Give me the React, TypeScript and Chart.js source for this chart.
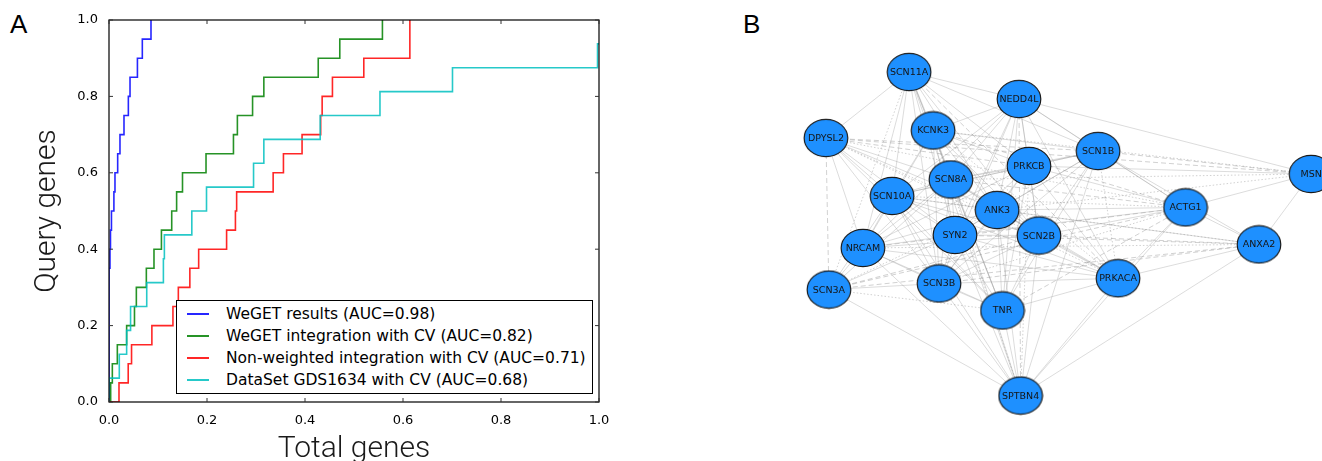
import React, { useEffect, useRef } from "react";
import { Chart, registerables } from "chart.js";

Chart.register(...registerables);

// ---------- Panel A data ----------
const axisTicks = [0, 0.2, 0.4, 0.6, 0.8, 1.0];
const seriesLabels = [
  "WeGET results (AUC=0.98)",
  "WeGET integration with CV (AUC=0.82)",
  "Non-weighted integration with CV (AUC=0.71)",
  "DataSet GDS1634 with CV (AUC=0.68)",
];
const seriesColors = [
  "rgba(0,0,255,0.85)",
  "rgba(0,128,0,0.85)",
  "rgba(255,0,0,0.85)",
  "rgba(0,191,191,0.85)",
];

const blueX = [0, 0, 0.002, 0.003, 0.005, 0.01, 0.0122, 0.0177, 0.0224, 0.0306, 0.0395, 0.0429, 0.058, 0.068, 0.0857];
const blueY = [0, 0.35, 0.4, 0.45, 0.5, 0.55, 0.6, 0.65, 0.7, 0.75, 0.8, 0.85, 0.9, 0.95, 1.0];

const greenX = [0, 0.0034, 0.0068, 0.017, 0.036, 0.052, 0.0558, 0.0762, 0.0918, 0.107, 0.128, 0.138, 0.15, 0.198, 0.254, 0.262, 0.293, 0.316, 0.427, 0.471, 0.558];
const greenY = [0, 0.05, 0.1, 0.15, 0.2, 0.25, 0.3, 0.35, 0.4, 0.45, 0.5, 0.55, 0.6, 0.65, 0.7, 0.75, 0.8, 0.85, 0.9, 0.95, 1.0];

const redX = [0, 0.0204, 0.0392, 0.046, 0.0875, 0.1305, 0.1415, 0.165, 0.183, 0.24, 0.258, 0.2605, 0.335, 0.356, 0.394, 0.432, 0.435, 0.456, 0.52, 0.614, 0.614];
const redY = [0, 0.05, 0.1, 0.15, 0.2, 0.25, 0.3, 0.35, 0.4, 0.45, 0.5, 0.55, 0.6, 0.65, 0.7, 0.75, 0.8, 0.85, 0.9, 0.95, 1.0];

const cyanX = [0, 0, 0.021, 0.036, 0.044, 0.077, 0.111, 0.113, 0.169, 0.199, 0.295, 0.316, 0.431, 0.553, 0.701, 0.997, 1.0];
const cyanY = [0, 0.0625, 0.125, 0.1875, 0.25, 0.3125, 0.375, 0.4375, 0.5, 0.5625, 0.625, 0.6875, 0.75, 0.8125, 0.875, 0.9375, 0.9375];

// ---------- Panel B data (network layout coordinates) ----------
const nodeNames = ["SCN11A", "NEDD4L", "KCNK3", "DPYSL2", "SCN1B", "MSN", "PRKCB", "SCN8A", "SCN10A", "ANK3", "ACTG1", "SYN2", "SCN2B", "ANXA2", "NRCAM", "SCN3A", "SCN3B", "PRKACA", "TNR", "SPTBN4"];
const nodeX = [-0.596, -0.189, -0.507, -0.904, 0.104, 0.893, -0.152, -0.441, -0.659, -0.27, 0.428, -0.426, -0.115, 0.7, -0.767, -0.893, -0.485, 0.178, -0.25, -0.183];
const nodeY = [0.881, 0.735, 0.565, 0.524, 0.454, 0.33, 0.373, 0.3, 0.211, 0.135, 0.149, 0.0, -0.003, -0.051, -0.07, -0.295, -0.262, -0.234, -0.408, -0.868];

const solidEdges = [
  "SCN11A-DPYSL2", "SCN11A-KCNK3", "SCN11A-NEDD4L", "SCN11A-SCN8A", "SCN11A-SCN10A", "SCN11A-ANK3", "SCN11A-SYN2", "SCN11A-SCN1B", "SCN11A-PRKCB", "SCN11A-NRCAM", "SCN11A-SCN3B", "SCN11A-TNR", "SCN11A-SPTBN4", "SCN11A-SCN2B",
  "NEDD4L-KCNK3", "NEDD4L-SCN1B", "NEDD4L-PRKCB", "NEDD4L-SCN8A", "NEDD4L-ANK3", "NEDD4L-SYN2", "NEDD4L-SCN2B", "NEDD4L-SCN10A", "NEDD4L-MSN", "NEDD4L-PRKACA", "NEDD4L-TNR", "NEDD4L-SCN3B", "NEDD4L-NRCAM", "NEDD4L-ACTG1",
  "KCNK3-SCN8A", "KCNK3-ANK3", "KCNK3-SYN2", "KCNK3-SCN10A", "KCNK3-PRKCB", "KCNK3-SCN2B", "KCNK3-SCN3B", "KCNK3-TNR", "KCNK3-NRCAM", "KCNK3-SCN1B",
  "DPYSL2-SCN10A", "DPYSL2-NRCAM", "DPYSL2-SCN8A", "DPYSL2-SYN2", "DPYSL2-SCN3B", "DPYSL2-TNR", "DPYSL2-ANK3",
  "SCN1B-PRKCB", "SCN1B-ANK3", "SCN1B-SCN2B", "SCN1B-ACTG1", "SCN1B-SCN8A", "SCN1B-SYN2", "SCN1B-SCN3B", "SCN1B-TNR", "SCN1B-SPTBN4", "SCN1B-ANXA2", "SCN1B-SCN10A",
  "PRKCB-ANK3", "PRKCB-SCN8A", "PRKCB-SCN2B", "PRKCB-SYN2", "PRKCB-PRKACA", "PRKCB-TNR", "PRKCB-ACTG1", "PRKCB-SCN10A", "PRKCB-NRCAM", "PRKCB-SCN3B", "PRKCB-MSN",
  "SCN8A-ANK3", "SCN8A-SYN2", "SCN8A-SCN10A", "SCN8A-NRCAM", "SCN8A-SCN3B", "SCN8A-SCN2B", "SCN8A-TNR", "SCN8A-SPTBN4", "SCN8A-PRKACA", "SCN8A-SCN3A",
  "SCN10A-ANK3", "SCN10A-SYN2", "SCN10A-NRCAM", "SCN10A-SCN3B", "SCN10A-SCN3A", "SCN10A-TNR", "SCN10A-SPTBN4", "SCN10A-SCN2B", "SCN10A-PRKACA",
  "ANK3-SYN2", "ANK3-SCN2B", "ANK3-SCN3B", "ANK3-TNR", "ANK3-SPTBN4", "ANK3-PRKACA", "ANK3-ACTG1", "ANK3-NRCAM", "ANK3-ANXA2",
  "SYN2-SCN2B", "SYN2-SCN3B", "SYN2-TNR", "SYN2-NRCAM", "SYN2-SPTBN4", "SYN2-PRKACA", "SYN2-SCN3A", "SYN2-ACTG1",
  "SCN2B-TNR", "SCN2B-SPTBN4", "SCN2B-PRKACA", "SCN2B-SCN3B", "SCN2B-NRCAM", "SCN2B-ACTG1",
  "NRCAM-SCN3A", "NRCAM-SCN3B", "NRCAM-TNR", "NRCAM-SPTBN4", "NRCAM-PRKACA",
  "SCN3A-SPTBN4", "SCN3A-SCN3B",
  "SCN3B-TNR", "SCN3B-SPTBN4", "SCN3B-PRKACA",
  "PRKACA-SPTBN4", "PRKACA-ACTG1", "PRKACA-ANXA2", "PRKACA-TNR",
  "TNR-SPTBN4",
  "ACTG1-ANXA2", "ACTG1-MSN", "ACTG1-SPTBN4",
  "ANXA2-MSN", "ANXA2-SPTBN4",
];
const dashedEdges = [
  "DPYSL2-SCN3A", "DPYSL2-SCN1B", "DPYSL2-MSN", "DPYSL2-PRKCB", "SCN3A-SCN2B", "SCN3A-ANXA2", "SCN3B-ANXA2", "SYN2-ANXA2", "SCN1B-MSN",
  "SCN3A-ACTG1", "NRCAM-ACTG1", "SCN8A-ACTG1", "KCNK3-ACTG1", "SCN2B-ANXA2", "SCN11A-PRKACA", "NEDD4L-SPTBN4", "TNR-ACTG1",
];
const dottedEdges = [
  "KCNK3-MSN", "SCN3A-TNR", "SCN3A-ANK3", "SCN10A-ACTG1", "SCN8A-MSN", "SCN1B-PRKACA", "DPYSL2-ACTG1", "DPYSL2-SCN2B", "SCN10A-ANXA2",
  "NRCAM-ANXA2", "SCN11A-SCN3A", "KCNK3-SPTBN4", "DPYSL2-PRKACA", "ANK3-MSN", "PRKCB-SPTBN4", "SCN3B-ACTG1", "KCNK3-PRKACA",
];

const toPts = (xs: number[], ys: number[]) => xs.map((x, i) => ({ x, y: ys[i] }));

const edgePoints = (list: string[]) => {
  const out: any[] = [];
  list.forEach((e) => {
    const [a, b] = e.split("-");
    const i = nodeNames.indexOf(a);
    const j = nodeNames.indexOf(b);
    out.push({ x: nodeX[i], y: nodeY[i] }, { x: nodeX[j], y: nodeY[j] }, { x: null, y: null });
  });
  return out;
};

const framePlugin = {
  id: "frameTicks",
  afterDatasetsDraw(chart: any) {
    const { ctx, chartArea, scales } = chart;
    const { left, right, top, bottom } = chartArea;
    ctx.save();
    ctx.strokeStyle = "#000";
    ctx.lineWidth = 1.2;
    ctx.strokeRect(left, top, right - left, bottom - top);
    ctx.lineWidth = 1;
    ctx.strokeStyle = "#333";
    ctx.beginPath();
    axisTicks.forEach((v) => {
      const px = scales.x.getPixelForValue(v);
      ctx.moveTo(px, bottom);
      ctx.lineTo(px, bottom - 4);
      ctx.moveTo(px, top);
      ctx.lineTo(px, top + 4);
      const py = scales.y.getPixelForValue(v);
      ctx.moveTo(left, py);
      ctx.lineTo(left + 4, py);
      ctx.moveTo(right, py);
      ctx.lineTo(right - 4, py);
    });
    ctx.stroke();
    ctx.restore();
  },
};

const labelPlugin = {
  id: "nodeLabels",
  afterDatasetsDraw(chart: any) {
    const { ctx } = chart;
    const meta = chart.getDatasetMeta(0);
    ctx.save();
    ctx.font = '9.5px "DejaVu Sans"';
    ctx.fillStyle = "#151515";
    ctx.textAlign = "center";
    ctx.textBaseline = "middle";
    meta.data.forEach((el: any, i: number) => {
      ctx.fillText(nodeNames[i], el.x, el.y + 0.5);
    });
    ctx.restore();
  },
};

const titleFont = { family: "Roboto, 'Open Sans', sans-serif", size: 30, weight: "300" as any, lineHeight: 1 };
const tickFont = { family: "'DejaVu Sans'", size: 13 };

export default function App() {
  const aRef = useRef<HTMLCanvasElement>(null);
  const bRef = useRef<HTMLCanvasElement>(null);

  useEffect(() => {
    const seriesX = [blueX, greenX, redX, cyanX];
    const seriesY = [blueY, greenY, redY, cyanY];
    const chartA = new Chart(aRef.current as HTMLCanvasElement, {
      type: "scatter",
      data: {
        datasets: seriesLabels.map((label, k) => ({
          label,
          data: toPts(seriesX[k], seriesY[k]),
          borderColor: seriesColors[k],
          backgroundColor: seriesColors[k],
          showLine: true,
          stepped: "before" as any,
          pointRadius: 0,
          borderWidth: 1.6,
          fill: false,
          order: 3 - k,
        })),
      },
      options: {
        responsive: false,
        animation: false,
        events: [],
        layout: { padding: { left: 0, right: 41, top: 20, bottom: 0 }, autoPadding: false },
        plugins: { legend: { display: false }, tooltip: { enabled: false } },
        scales: {
          x: {
            type: "linear",
            min: 0,
            max: 1,
            afterFit: (s: any) => { s.height = 59; },
            afterBuildTicks: (s: any) => { s.ticks = axisTicks.map((v) => ({ value: v })); },
            ticks: { font: tickFont, color: "#000", padding: 3, maxRotation: 0, callback: (v: any) => Number(v).toFixed(1) },
            grid: { display: false },
            border: { display: false },
            title: { display: true, text: "Total genes", font: titleFont, color: "#1a1a1a", padding: { top: 0, bottom: -3 } },
          },
          y: {
            type: "linear",
            min: 0,
            max: 1,
            afterFit: (s: any) => { s.width = 109; },
            afterBuildTicks: (s: any) => { s.ticks = axisTicks.map((v) => ({ value: v })); },
            ticks: { font: tickFont, color: "#000", padding: 3, callback: (v: any) => Number(v).toFixed(1) },
            grid: { display: false },
            border: { display: false },
            title: { display: true, text: "Query genes", font: titleFont, color: "#1a1a1a", padding: { top: 32, bottom: 0 } },
          },
        },
      },
      plugins: [framePlugin],
    } as any);

    // ellipse node image
    const img = document.createElement("canvas");
    img.width = 46;
    img.height = 40;
    const ic = img.getContext("2d") as CanvasRenderingContext2D;
    ic.beginPath();
    ic.ellipse(23, 20, 21.8, 18.6, 0, 0, Math.PI * 2);
    ic.fillStyle = "#1e90ff";
    ic.fill();
    ic.lineWidth = 1.2;
    ic.strokeStyle = "#1a1a1a";
    ic.stroke();

    const edgeBase = { showLine: true, pointRadius: 0, borderWidth: 0.8, spanGaps: false, fill: false };
    const chartB = new Chart(bRef.current as HTMLCanvasElement, {
      type: "scatter",
      data: {
        datasets: [
          { label: "nodes", data: toPts(nodeX, nodeY), pointStyle: img, pointRadius: 20, showLine: false, order: 0, clip: false },
          { label: "solid", data: edgePoints(solidEdges), borderColor: "rgba(150,150,150,0.42)", ...edgeBase, order: 1 },
          { label: "dashed", data: edgePoints(dashedEdges), borderColor: "rgba(140,140,140,0.5)", borderDash: [5, 3], ...edgeBase, order: 2 },
          { label: "dotted", data: edgePoints(dottedEdges), borderColor: "rgba(140,140,140,0.5)", borderDash: [1.5, 2], ...edgeBase, order: 3 },
        ],
      },
      options: {
        responsive: false,
        animation: false,
        events: [],
        layout: { padding: { left: 10, right: 10, top: 50, bottom: 41 }, autoPadding: false },
        plugins: { legend: { display: false }, tooltip: { enabled: false } },
        scales: {
          x: { type: "linear", min: -1, max: 1, display: false },
          y: { type: "linear", min: -1, max: 1, display: false },
        },
      },
      plugins: [labelPlugin],
    } as any);

    return () => {
      chartA.destroy();
      chartB.destroy();
    };
  }, []);

  const legendRowCenters = [12.5, 34.8, 57.1, 79.4];

  return (
    <div style={{ position: "absolute", left: 0, top: 0, width: 1322, height: 461, overflow: "hidden", background: "#fff" }}>
      <div style={{ position: "absolute", left: 10, top: 11, fontFamily: "'Liberation Sans', Arial, sans-serif", fontSize: 26, lineHeight: "26px", color: "#000" }}>A</div>
      <div style={{ position: "absolute", left: 743, top: 11, fontFamily: "'Liberation Sans', Arial, sans-serif", fontSize: 26, lineHeight: "26px", color: "#000" }}>B</div>
      <canvas ref={aRef} width={640} height={461} style={{ position: "absolute", left: 0, top: 0, width: 640, height: 461 }} />
      <canvas ref={bRef} width={560} height={461} style={{ position: "absolute", left: 790, top: 0, width: 560, height: 461 }} />
      <div style={{ position: "absolute", left: 176, top: 300, width: 417, height: 94, boxSizing: "border-box", border: "1.2px solid #000", background: "#fff" }}>
        {seriesLabels.map((label, k) => (
          <div key={label} style={{ position: "absolute", left: 10, top: legendRowCenters[k] - 11, height: 22, display: "flex", alignItems: "center", whiteSpace: "nowrap" }}>
            <div style={{ width: 22, height: 2, background: seriesColors[k] }} />
            <span style={{ marginLeft: 17, fontFamily: "'DejaVu Sans'", fontSize: 15.5, color: "#000" }}>{label}</span>
          </div>
        ))}
      </div>
    </div>
  );
}
